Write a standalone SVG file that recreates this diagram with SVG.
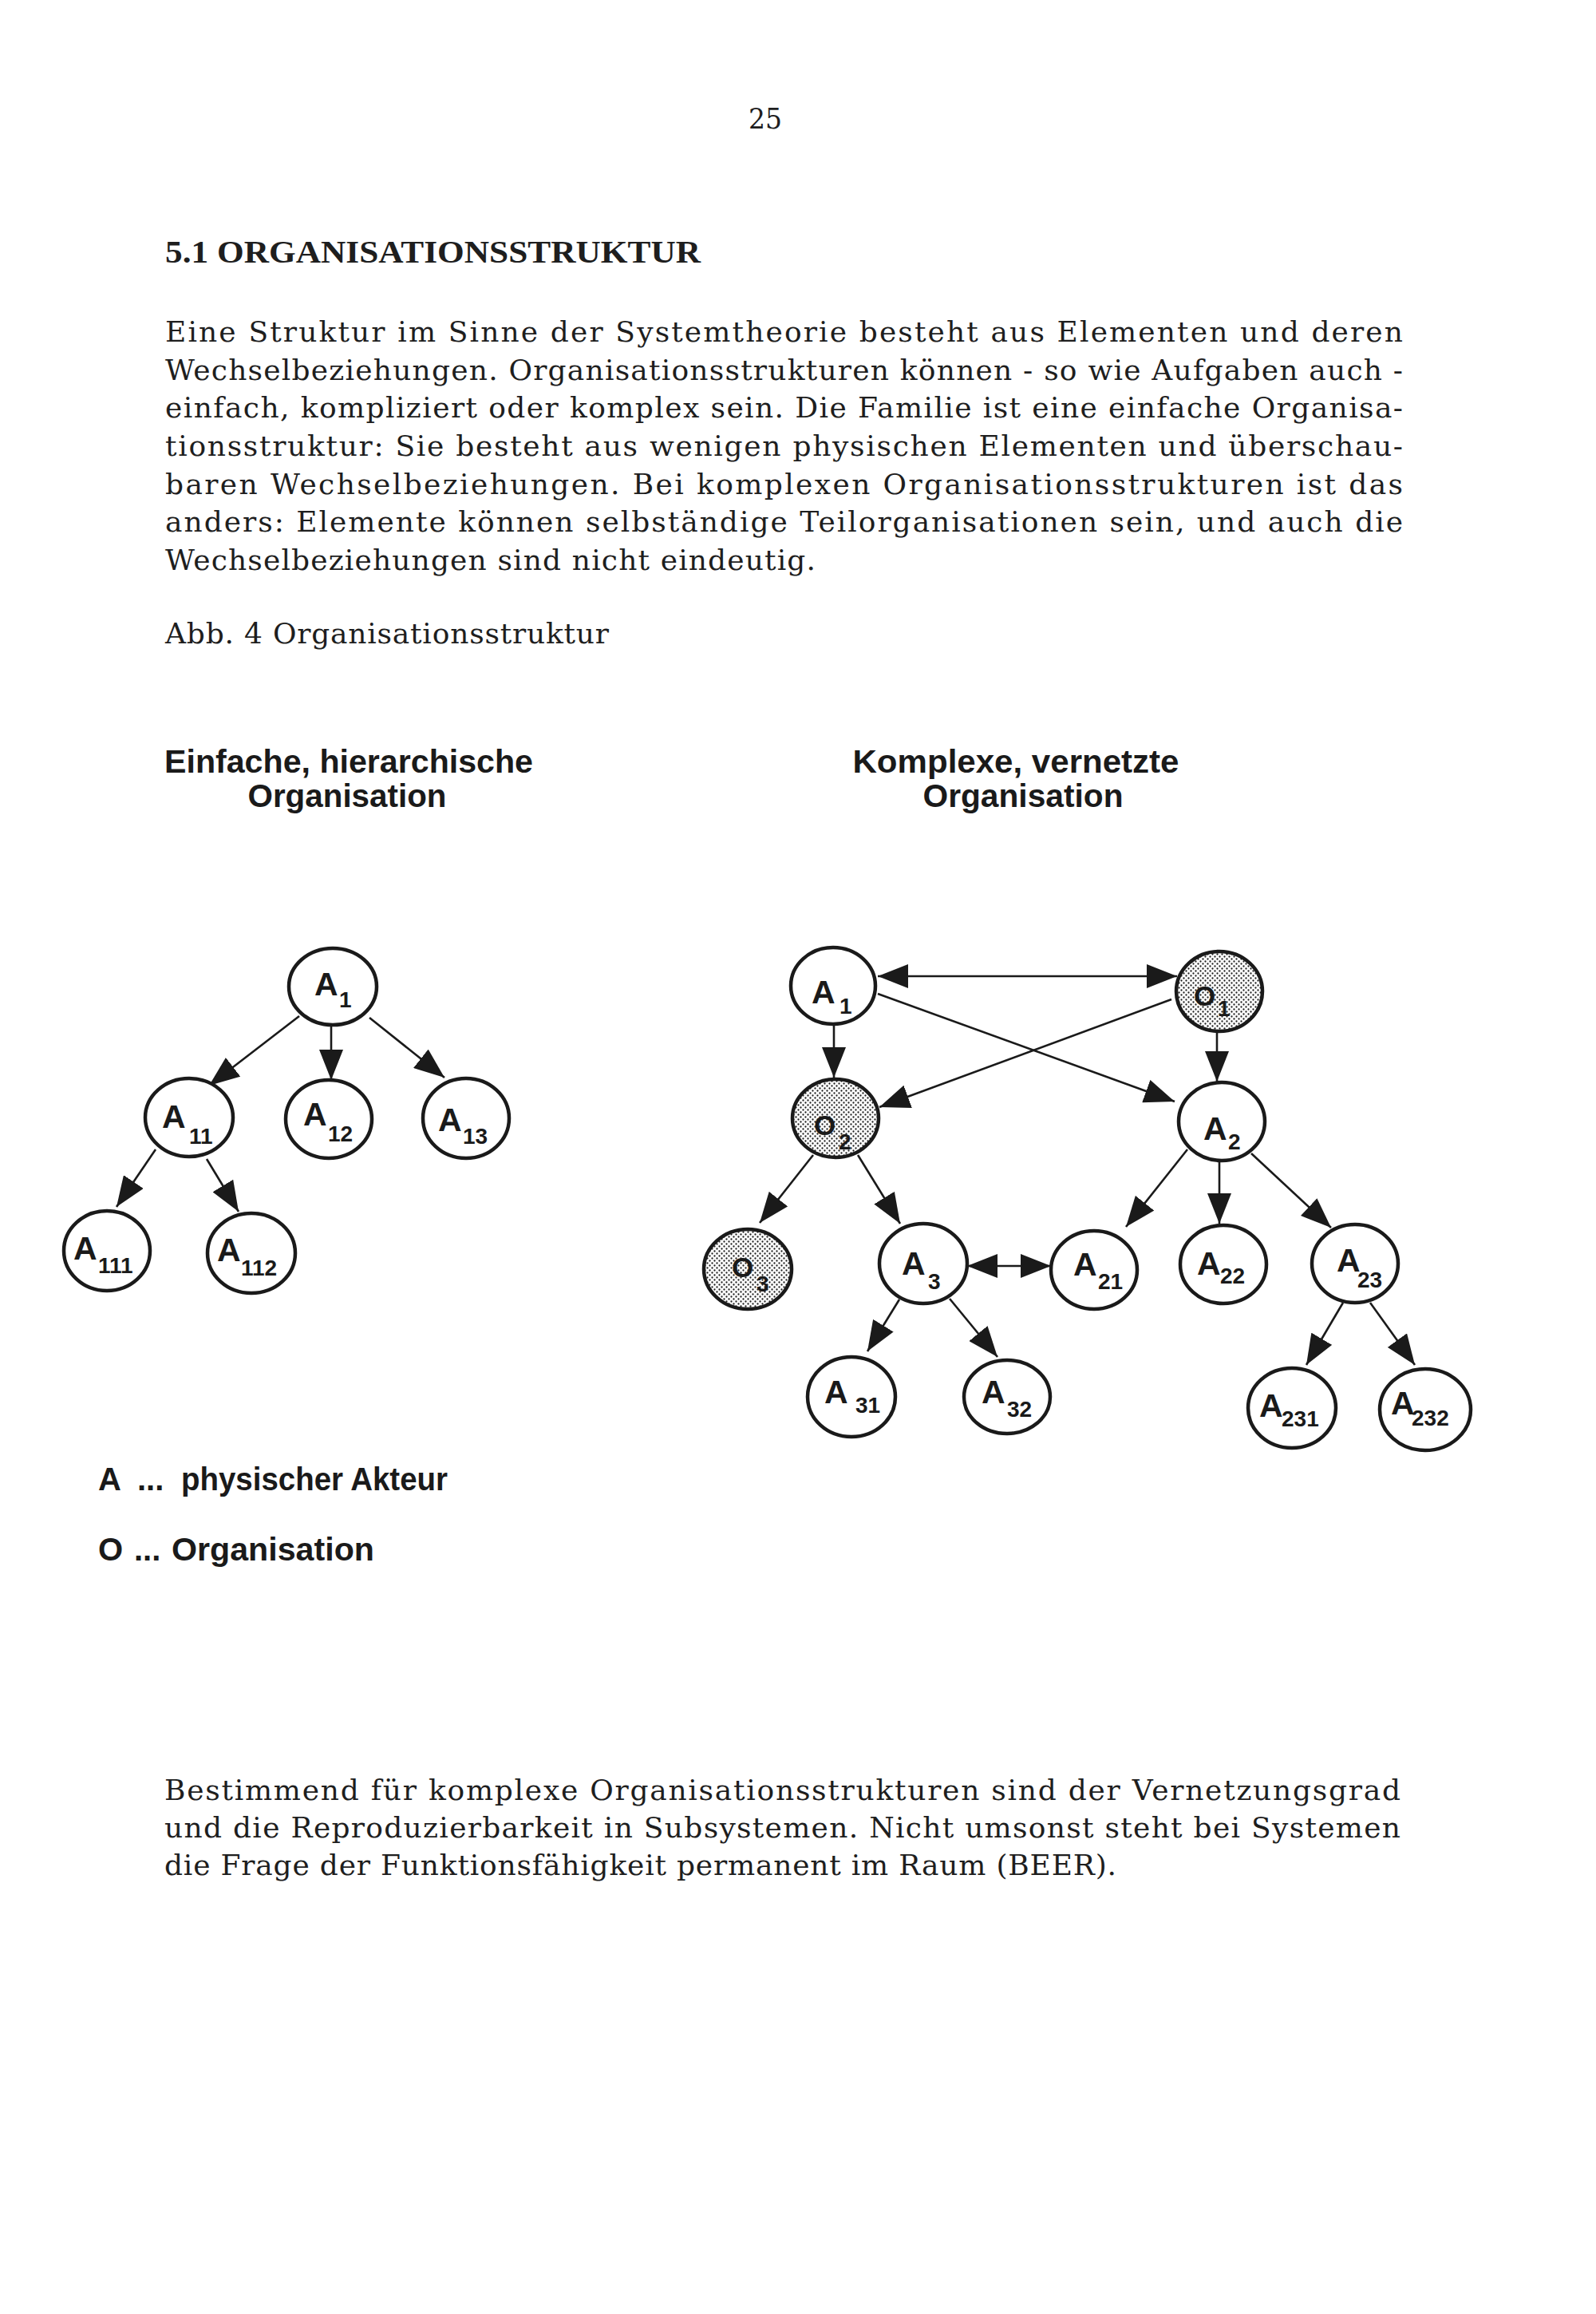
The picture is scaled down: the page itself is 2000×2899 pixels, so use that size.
<svg xmlns="http://www.w3.org/2000/svg" width="2000" height="2899" viewBox="0 0 2000 2899">
<defs>
<pattern id="dots" patternUnits="userSpaceOnUse" width="6" height="6">
<rect width="6" height="6" fill="#ffffff"/>
<circle cx="1.5" cy="1.5" r="1.15" fill="#222"/>
<circle cx="4.5" cy="4.5" r="1.15" fill="#222"/>
</pattern>
<marker id="arr" markerUnits="userSpaceOnUse" markerWidth="38" markerHeight="30" viewBox="0 0 38 30" refX="38" refY="15" orient="auto-start-reverse">
<path d="M0,0 L38,15 L0,30 z" fill="#1a1a1a"/>
</marker>
</defs>
<style>
.body{font-family:"DejaVu Serif","Liberation Serif",serif;font-size:36px;fill:#1e1e1e}
.head{font-family:"Liberation Serif","Times New Roman",serif;font-size:40px;font-weight:bold;fill:#1e1e1e}
.title{font-family:"Liberation Sans",Arial,sans-serif;font-size:41px;font-weight:bold;fill:#1a1a1a}
.leg{font-family:"Liberation Sans",Arial,sans-serif;font-size:40px;font-weight:bold;fill:#1a1a1a}
.node ellipse{fill:#ffffff;stroke:#1a1a1a;stroke-width:4.5}
.org ellipse{fill:url(#dots)}
.lbl{font-family:"Liberation Sans",Arial,sans-serif;font-size:41px;font-weight:bold;fill:#1a1a1a}
.olbl{font-family:"Liberation Sans",Arial,sans-serif;font-size:35px;font-weight:bold;fill:#1a1a1a}
.sub{font-size:28px}
.edges line{stroke:#1a1a1a;stroke-width:2.6;marker-end:url(#arr)}
.edges line.both{marker-start:url(#arr)}
</style>
<rect width="2000" height="2899" fill="#ffffff"/>

<text class="body" x="938" y="161" textLength="42" lengthAdjust="spacingAndGlyphs">25</text>
<text class="head" x="207" y="329" textLength="671" lengthAdjust="spacingAndGlyphs">5.1 ORGANISATIONSSTRUKTUR</text>

<text class="body" x="207" y="428" textLength="1551" lengthAdjust="spacing">Eine Struktur im Sinne der Systemtheorie besteht aus Elementen und deren</text>
<text class="body" x="207" y="476" textLength="1551" lengthAdjust="spacing">Wechselbeziehungen. Organisationsstrukturen können - so wie Aufgaben auch -</text>
<text class="body" x="207" y="523" textLength="1551" lengthAdjust="spacing">einfach, kompliziert oder komplex sein. Die Familie ist eine einfache Organisa-</text>
<text class="body" x="207" y="571" textLength="1551" lengthAdjust="spacing">tionsstruktur: Sie besteht aus wenigen physischen Elementen und überschau-</text>
<text class="body" x="207" y="619" textLength="1551" lengthAdjust="spacing">baren Wechselbeziehungen. Bei komplexen Organisationsstrukturen ist das</text>
<text class="body" x="207" y="666" textLength="1551" lengthAdjust="spacing">anders: Elemente können selbständige Teilorganisationen sein, und auch die</text>
<text class="body" x="207" y="714" textLength="815" lengthAdjust="spacing">Wechselbeziehungen sind nicht eindeutig.</text>

<text class="body" x="207" y="806" textLength="556" lengthAdjust="spacing">Abb. 4 Organisationsstruktur</text>

<text class="title" x="437" y="968" text-anchor="middle" textLength="462" lengthAdjust="spacingAndGlyphs">Einfache, hierarchische</text>
<text class="title" x="435" y="1011" text-anchor="middle" textLength="249" lengthAdjust="spacingAndGlyphs">Organisation</text>
<text class="title" x="1273" y="968" text-anchor="middle" textLength="409" lengthAdjust="spacingAndGlyphs">Komplexe, vernetzte</text>
<text class="title" x="1282" y="1011" text-anchor="middle" textLength="251" lengthAdjust="spacingAndGlyphs">Organisation</text>

<g class="edges">
<line x1="375" y1="1273" x2="262" y2="1360"/>
<line x1="415" y1="1286" x2="415" y2="1353"/>
<line x1="463" y1="1275" x2="557" y2="1350"/>
<line x1="195" y1="1440" x2="146" y2="1512"/>
<line x1="259" y1="1452" x2="299" y2="1518"/>
<line class="both" x1="1100" y1="1223" x2="1475" y2="1223"/>
<line x1="1100" y1="1245" x2="1472" y2="1380"/>
<line x1="1468" y1="1252" x2="1102" y2="1387"/>
<line x1="1045" y1="1283" x2="1045" y2="1350"/>
<line x1="1525" y1="1292" x2="1525" y2="1355"/>
<line x1="1019" y1="1447" x2="952" y2="1532"/>
<line x1="1075" y1="1447" x2="1128" y2="1533"/>
<line class="both" x1="1212" y1="1586" x2="1317" y2="1586"/>
<line x1="1488" y1="1440" x2="1411" y2="1537"/>
<line x1="1528" y1="1454" x2="1528" y2="1533"/>
<line x1="1568" y1="1445" x2="1668" y2="1538"/>
<line x1="1127" y1="1628" x2="1087" y2="1693"/>
<line x1="1190" y1="1627" x2="1250" y2="1700"/>
<line x1="1683" y1="1632" x2="1637" y2="1710"/>
<line x1="1717" y1="1632" x2="1773" y2="1710"/>
</g>

<g id="L_A1" class="node"><ellipse cx="417" cy="1236" rx="55" ry="48"/><text class="lbl" x="394" y="1247">A<tspan class="sub" x="425" y="1262">1</tspan></text></g>
<g id="L_A11" class="node"><ellipse cx="237" cy="1400" rx="55" ry="49"/><text class="lbl" x="203" y="1413">A<tspan class="sub" x="237" y="1433">11</tspan></text></g>
<g id="L_A12" class="node"><ellipse cx="412" cy="1402" rx="54" ry="49"/><text class="lbl" x="380" y="1410">A<tspan class="sub" x="411" y="1430">12</tspan></text></g>
<g id="L_A13" class="node"><ellipse cx="584" cy="1401" rx="54" ry="50"/><text class="lbl" x="549" y="1417">A<tspan class="sub" x="580" y="1433">13</tspan></text></g>
<g id="L_A111" class="node"><ellipse cx="134" cy="1567" rx="54" ry="50"/><text class="lbl" x="92" y="1578">A<tspan class="sub" x="123" y="1595">111</tspan></text></g>
<g id="L_A112" class="node"><ellipse cx="315" cy="1570" rx="55" ry="50"/><text class="lbl" x="272" y="1580">A<tspan class="sub" x="302" y="1598">112</tspan></text></g>

<g id="R_A1" class="node"><ellipse cx="1044" cy="1235" rx="53" ry="48"/><text class="lbl" x="1017" y="1257">A<tspan class="sub" x="1052" y="1270">1</tspan></text></g>
<g id="R_O1" class="node org"><ellipse cx="1528" cy="1242" rx="54" ry="50"/><text class="olbl" x="1496" y="1260">O<tspan class="sub" x="1526" y="1273">1</tspan></text></g>
<g id="R_O2" class="node org"><ellipse cx="1047" cy="1401" rx="54" ry="49"/><text class="olbl" x="1020" y="1422">O<tspan class="sub" x="1051" y="1440">2</tspan></text></g>
<g id="R_A2" class="node"><ellipse cx="1531" cy="1405" rx="54" ry="49"/><text class="lbl" x="1508" y="1428">A<tspan class="sub" x="1539" y="1440">2</tspan></text></g>
<g id="R_O3" class="node org"><ellipse cx="937" cy="1590" rx="55" ry="50"/><text class="olbl" x="917" y="1600">O<tspan class="sub" x="948" y="1618">3</tspan></text></g>
<g id="R_A3" class="node"><ellipse cx="1157" cy="1583" rx="55" ry="50"/><text class="lbl" x="1130" y="1597">A<tspan class="sub" x="1163" y="1615">3</tspan></text></g>
<g id="R_A21" class="node"><ellipse cx="1371" cy="1591" rx="54" ry="49"/><text class="lbl" x="1345" y="1598">A<tspan class="sub" x="1376" y="1615">21</tspan></text></g>
<g id="R_A22" class="node"><ellipse cx="1533" cy="1584" rx="54" ry="49"/><text class="lbl" x="1500" y="1597">A<tspan class="sub" x="1529" y="1608">22</tspan></text></g>
<g id="R_A23" class="node"><ellipse cx="1698" cy="1583" rx="54" ry="49"/><text class="lbl" x="1675" y="1593">A<tspan class="sub" x="1701" y="1613">23</tspan></text></g>
<g id="R_A31" class="node"><ellipse cx="1067" cy="1750" rx="55" ry="50"/><text class="lbl" x="1033" y="1758">A<tspan class="sub" x="1072" y="1770">31</tspan></text></g>
<g id="R_A32" class="node"><ellipse cx="1262" cy="1750" rx="54" ry="46"/><text class="lbl" x="1230" y="1758">A<tspan class="sub" x="1262" y="1775">32</tspan></text></g>
<g id="R_A231" class="node"><ellipse cx="1619" cy="1764" rx="55" ry="50"/><text class="lbl" x="1578" y="1775">A<tspan class="sub" x="1606" y="1787">231</tspan></text></g>
<g id="R_A232" class="node"><ellipse cx="1786" cy="1766" rx="57" ry="51"/><text class="lbl" x="1743" y="1772">A<tspan class="sub" x="1769" y="1786">232</tspan></text></g>

<g id="legend">
<text class="leg" x="123" y="1867">A</text>
<text class="leg" x="172" y="1867">...</text>
<text class="leg" x="227" y="1867" textLength="334" lengthAdjust="spacingAndGlyphs">physischer Akteur</text>
<text class="leg" x="123" y="1955">O</text>
<text class="leg" x="168" y="1955">...</text>
<text class="leg" x="215" y="1955" textLength="254" lengthAdjust="spacingAndGlyphs">Organisation</text>
</g>

<text class="body" x="206" y="2255" textLength="1549" lengthAdjust="spacing">Bestimmend für komplexe Organisationsstrukturen sind der Vernetzungsgrad</text>
<text class="body" x="206" y="2302" textLength="1549" lengthAdjust="spacing">und die Reproduzierbarkeit in Subsystemen. Nicht umsonst steht bei Systemen</text>
<text class="body" x="206" y="2349" textLength="1193" lengthAdjust="spacing">die Frage der Funktionsfähigkeit permanent im Raum (BEER).</text>
</svg>
